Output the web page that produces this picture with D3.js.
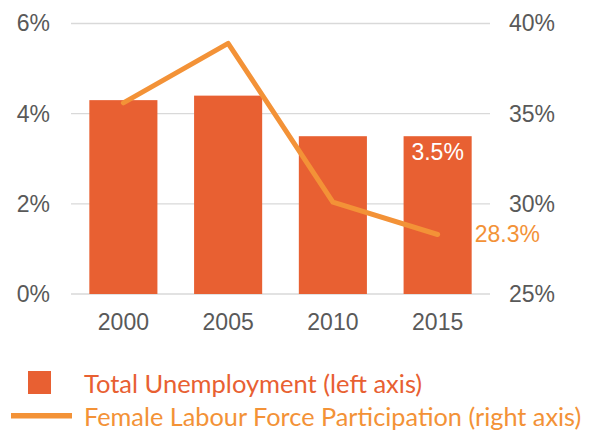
<!DOCTYPE html>
<html><head><meta charset="utf-8">
<script src="https://cdn.jsdelivr.net/npm/d3@7"></script>
<style>body{margin:0;background:#fff}svg{display:block}</style>
</head><body><svg id="c" width="595" height="432"></svg>
<script>
const years = ["2000","2005","2010","2015"];
const unemployment = [4.3, 4.4, 3.5, 3.5];
const femaleLFP = [35.6, 38.9, 30.1, 28.3];
const leftTicks = [0, 2, 4, 6];
const rightTicks = [25, 30, 35, 40];
const legendLabels = ["Total Unemployment (left axis)", "Female Labour Force Participation (right axis)"];

const barColor = "#E86032", lineColor = "#F39237", txt = "#595959";
const svg = d3.select("#c");
const x0 = 71, x1 = 490, yTop = 23.5, yBot = 294;
const x = d3.scaleBand().domain(years).range([x0, x1]).paddingInner(0.35).paddingOuter(0.175);
const yL = d3.scaleLinear().domain([0, 6]).range([yBot, yTop]);
const yR = d3.scaleLinear().domain([25, 40]).range([yBot, yTop]);
const font = "'Liberation Sans', Arial, sans-serif";

// gridlines
svg.append("g").selectAll("line").data(leftTicks).join("line")
  .attr("x1", x0).attr("x2", x1).attr("y1", d => yL(d)).attr("y2", d => yL(d))
  .attr("stroke", "#D9D9D9").attr("stroke-width", 1.3);

// left axis
const gl = svg.append("g").attr("transform", `translate(${x0},0)`)
  .call(d3.axisLeft(yL).tickValues(leftTicks).tickFormat(d => d + "%").tickSize(0).tickPadding(21));
gl.select(".domain").remove();
gl.selectAll("text").attr("font-family", font).attr("font-size", 23).attr("fill", txt);

// right axis
const gr = svg.append("g").attr("transform", `translate(${x1},0)`)
  .call(d3.axisRight(yR).tickValues(rightTicks).tickFormat(d => d + "%").tickSize(0).tickPadding(19));
gr.select(".domain").remove();
gr.selectAll("text").attr("font-family", font).attr("font-size", 23).attr("fill", txt);

// bottom axis
const gb = svg.append("g").attr("transform", `translate(0,${yBot})`)
  .call(d3.axisBottom(x).tickSize(0).tickPadding(20));
gb.select(".domain").remove();
gb.selectAll("text").attr("font-family", font).attr("font-size", 23).attr("fill", txt);

// bars
svg.append("g").selectAll("rect").data(unemployment).join("rect")
  .attr("x", (d, i) => x(years[i])).attr("width", x.bandwidth())
  .attr("y", d => yL(d)).attr("height", d => yBot - yL(d))
  .attr("fill", barColor);

// line
const line = d3.line().x((d, i) => x(years[i]) + x.bandwidth() / 2).y(d => yR(d));
svg.append("path").datum(femaleLFP).attr("d", line)
  .attr("fill", "none").attr("stroke", lineColor).attr("stroke-width", 5)
  .attr("stroke-linecap", "round").attr("stroke-linejoin", "round");

// data labels
const li = years.length - 1;
svg.append("text").attr("x", x(years[li]) + x.bandwidth() / 2).attr("y", yL(unemployment[li]) + 24)
  .attr("text-anchor", "middle").attr("font-family", font).attr("font-size", 23).attr("fill", "#fff")
  .text(unemployment[li].toFixed(1) + "%");
svg.append("text").attr("x", x(years[li]) + x.bandwidth() + 3).attr("y", yR(femaleLFP[li]) + 8)
  .attr("font-family", font).attr("font-size", 23).attr("fill", lineColor)
  .text(femaleLFP[li].toFixed(1) + "%");

// legend
const lf = "Lato, 'Open Sans', sans-serif";
svg.append("rect").attr("x", 28).attr("y", 371).attr("width", 23).attr("height", 23).attr("fill", barColor);
svg.append("text").attr("x", 84).attr("y", 392.5).attr("font-family", lf).attr("font-size", 25.5)
  .attr("fill", barColor).text(legendLabels[0]);
svg.append("line").attr("x1", 11).attr("x2", 72).attr("y1", 415.7).attr("y2", 415.7)
  .attr("stroke", lineColor).attr("stroke-width", 5.5);
svg.append("text").attr("x", 84).attr("y", 426).attr("font-family", lf).attr("font-size", 25.3)
  .attr("fill", lineColor).text(legendLabels[1]);
</script></body></html>
